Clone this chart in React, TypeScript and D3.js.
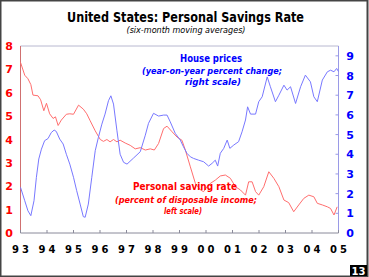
import React from "react";
import * as d3 from "d3";

// personal saving rate, % of disposable income (left scale)
const savingYears = [
  1993.0, 1993.16, 1993.28, 1993.39, 1993.47, 1993.66, 1993.76, 1993.88, 1993.98,
  1994.1, 1994.23, 1994.32, 1994.42, 1994.54, 1994.73, 1994.86, 1995.0, 1995.19,
  1995.37, 1995.5, 1995.63, 1995.82, 1996.01, 1996.13, 1996.26, 1996.38, 1996.51,
  1996.64, 1996.76, 1996.95, 1997.14, 1997.33, 1997.52, 1997.71, 1997.9, 1998.05,
  1998.21, 1998.4, 1998.53, 1998.72, 1998.91, 1999.09, 1999.22, 1999.41, 1999.6,
  1999.79, 1999.91, 2000.04, 2000.16, 2000.35, 2000.54, 2000.73, 2000.92, 2001.11,
  2001.3, 2001.49, 2001.61, 2001.74, 2001.87, 2001.99, 2002.18, 2002.37, 2002.56,
  2002.75, 2002.94, 2003.12, 2003.31, 2003.5, 2003.69, 2003.88, 2004.07, 2004.2,
  2004.39, 2004.58, 2004.7, 2004.83, 2004.95,
];
const savingRate = [
  7.3, 6.75, 6.6, 6.35, 5.9, 5.87, 5.7, 5.23, 5.55,
  5.1, 4.9, 4.97, 4.6, 4.83, 5.08, 5.1, 5.08, 5.47,
  5.3, 5.1, 4.8, 4.37, 4.0, 3.92, 4.0, 3.9, 4.0,
  3.9, 3.97, 3.85, 3.75, 3.6, 3.65, 3.55, 3.6, 3.55,
  3.83, 4.47, 4.57, 4.33, 4.1, 3.97, 3.55, 2.83, 2.12,
  1.84, 1.77, 1.98, 2.12, 2.26, 2.44, 2.48, 2.34, 1.98,
  1.84, 1.62, 2.19, 2.19, 1.77, 1.62, 1.98, 2.62, 2.34,
  1.98, 1.41, 1.3, 0.91, 1.2, 1.48, 1.62, 1.55, 1.27,
  1.2, 1.12, 1.05, 0.77, 1.12,
];

// house prices, year-on-year % change (right scale)
const houseYears = [
  1993.0, 1993.16, 1993.28, 1993.39, 1993.51, 1993.6, 1993.69, 1993.79, 1993.91,
  1994.04, 1994.16, 1994.27, 1994.35, 1994.48, 1994.61, 1994.73, 1994.86, 1995.0,
  1995.12, 1995.25, 1995.37, 1995.44, 1995.56, 1995.69, 1995.82, 1995.94, 1996.07,
  1996.19, 1996.32, 1996.41, 1996.51, 1996.64, 1996.76, 1996.89, 1997.02, 1997.26,
  1997.52, 1997.71, 1997.83, 1998.02, 1998.21, 1998.4, 1998.53, 1998.65, 1998.84,
  1999.03, 1999.15, 1999.28, 1999.41, 1999.53, 1999.72, 1999.91, 2000.1, 2000.23,
  2000.35, 2000.44, 2000.54, 2000.67, 2000.8, 2000.9, 2001.05, 2001.23, 2001.36,
  2001.49, 2001.57, 2001.68, 2001.87, 2001.99, 2002.12, 2002.31, 2002.43, 2002.62,
  2002.75, 2002.94, 2003.06, 2003.19, 2003.38, 2003.57, 2003.75, 2003.94, 2004.07,
  2004.2, 2004.39, 2004.58, 2004.7, 2004.83, 2004.93, 2005.0,
];
const housePrices = [
  2.32, 1.64, 1.13, 0.88, 1.64, 2.83, 3.76, 4.26, 4.69,
  4.8, 5.1, 5.23, 5.16, 4.77, 4.52, 4.0, 3.5, 2.83,
  2.15, 1.47, 0.83, 0.8, 1.47, 2.83, 4.18, 4.86, 5.53,
  6.04, 6.72, 6.97, 6.55, 5.19, 4.0, 3.59, 3.5, 3.8,
  4.13, 4.97, 5.57, 6.08, 5.94, 5.99, 5.99, 5.65, 5.06,
  4.72, 4.38, 4.05, 3.87, 3.79, 3.7, 3.62, 3.4, 3.54,
  3.7, 3.4, 4.05, 4.3, 4.72, 4.3, 4.47, 4.64, 5.14,
  5.74, 6.41, 6.04, 6.04, 6.67, 6.92, 7.93, 7.43, 6.67,
  7.0, 7.51, 7.26, 7.43, 6.58, 7.43, 8.02, 7.68, 6.92,
  6.67, 7.77, 8.19, 8.27, 8.19, 8.36, 8.2,
];

const yearTicks = d3.range(1993, 2006);
const yearLabels = ["93", "94", "95", "96", "97", "98", "99", "00", "01", "02", "03", "04", "05"];
const leftTicks = [0, 1, 2, 3, 4, 5, 6, 7, 8];
const rightTicks = [0, 1, 2, 3, 4, 5, 6, 7, 8, 9];

const W = 369;
const H = 277;
const plot = { left: 20.5, right: 338.5, top: 46, bottom: 233 };
const font = "'DejaVu Sans', Verdana, sans-serif";

export default function App() {
  const x = d3.scaleLinear().domain([1993, 2005]).range([plot.left, plot.right]);
  const yL = d3.scaleLinear().domain([0, 8]).range([plot.bottom, plot.top]);
  const yR = d3.scaleLinear().domain([0, 9.5]).range([plot.bottom, plot.top]);

  const savingLine = d3
    .line<number>()
    .x((_, i) => x(savingYears[i]))
    .y((d) => yL(d));
  const houseLine = d3
    .line<number>()
    .x((_, i) => x(houseYears[i]))
    .y((d) => yR(d));

  return (
    <svg
      width={W}
      height={H}
      style={{ position: "absolute", left: 0, top: 0, background: "#fff" }}
      fontFamily={font}
    >
      <rect x={0.5} y={0.5} width={W - 2} height={H - 1} fill="#fff" stroke="#444" strokeWidth={2} />

      <text x={185.5} y={22} textAnchor="middle" fontSize={14} fontWeight="bold" textLength={237} lengthAdjust="spacingAndGlyphs">
        United States: Personal Savings Rate
      </text>
      <text x={186} y={33} textAnchor="middle" fontSize={9} fontStyle="italic" textLength={119} lengthAdjust="spacingAndGlyphs">
        (six-month moving averages)
      </text>

      {/* frame */}
      <line x1={plot.left} x2={plot.right} y1={plot.top} y2={plot.top} stroke="#b8b8d0" />
      <line x1={plot.left} x2={plot.right} y1={plot.bottom} y2={plot.bottom} stroke="#8a8a9a" />
      <line x1={plot.left} x2={plot.left} y1={plot.top} y2={plot.bottom} stroke="#d07070" />
      <line x1={plot.right} x2={plot.right} y1={plot.top} y2={plot.bottom} stroke="#9a9ae6" />

      {yearTicks.map((t) => (
        <line key={t} x1={x(t)} x2={x(t)} y1={plot.bottom} y2={plot.bottom - 3} stroke="#8a8a9a" />
      ))}
      {yearTicks.map((t, i) => (
        <text
          key={"l" + t}
          x={x(t) + 1.5}
          y={253}
          textAnchor="middle"
          fontSize={10}
          fontWeight="bold"
          letterSpacing={3}
        >
          {yearLabels[i]}
        </text>
      ))}

      {leftTicks.map((t) => (
        <text key={t} x={9} y={yL(t) + 4} textAnchor="middle" fontSize={11} fontWeight="bold" fill="#ff0000">
          {t}
        </text>
      ))}
      {rightTicks.map((t) => (
        <g key={t}>
          {t > 0 && <line x1={plot.right} x2={plot.right - 3} y1={yR(t)} y2={yR(t)} stroke="#9a9ae6" />}
          <text x={350} y={yR(t) + 4} textAnchor="middle" fontSize={11} fontWeight="bold" fill="#0000ff">
            {t}
          </text>
        </g>
      ))}

      <path d={savingLine(savingRate) ?? ""} fill="none" stroke="#ff6e6e" strokeWidth={1} />
      <path d={houseLine(housePrices) ?? ""} fill="none" stroke="#7878ff" strokeWidth={1} />

      <g fill="#0000ff" fontWeight="bold" textAnchor="middle">
        <text x={211} y={62} fontSize={11} textLength={62} lengthAdjust="spacingAndGlyphs">House prices</text>
        <text x={212} y={73.5} fontSize={9} fontStyle="italic" textLength={140} lengthAdjust="spacingAndGlyphs">
          (year-on-year percent change;
        </text>
        <text x={213} y={84.5} fontSize={9} fontStyle="italic" textLength={56} lengthAdjust="spacingAndGlyphs">
          right scale)
        </text>
      </g>
      <g fill="#ff0000" fontWeight="bold" textAnchor="middle">
        <text x={185} y={190} fontSize={11} textLength={104} lengthAdjust="spacingAndGlyphs">Personal saving rate</text>
        <text x={186} y={202.5} fontSize={9} fontStyle="italic" textLength={142} lengthAdjust="spacingAndGlyphs">
          (percent of disposable income;
        </text>
        <text x={183} y={214} fontSize={9} fontStyle="italic" textLength={38} lengthAdjust="spacingAndGlyphs">
          left scale)
        </text>
      </g>

      <rect x={350} y={265} width={17} height={11} fill="#000" />
      <text x={358.5} y={274.5} textAnchor="middle" fontSize={10} fontWeight="bold" fill="#fff">
        13
      </text>
    </svg>
  );
}
